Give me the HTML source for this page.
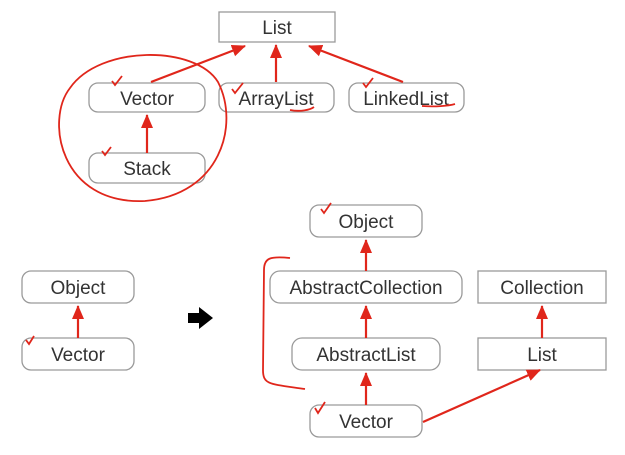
<!DOCTYPE html>
<html><head><style>
body{margin:0;background:#fff;width:625px;height:450px;overflow:hidden}
svg text{font-family:"Liberation Sans",sans-serif;font-size:19px;fill:#333;text-anchor:middle}
</style></head><body>
<svg width="625" height="450" viewBox="0 0 625 450">
<defs><marker id="a" markerWidth="14" markerHeight="14" refX="13" refY="6" orient="auto" markerUnits="userSpaceOnUse" viewBox="0 0 14 12"><path d="M0,0L14,6L0,12Z" fill="#e0261b"/></marker></defs>
<g fill="#fff" stroke="#9a9a9a" stroke-width="1.3">
<rect x="219" y="12" width="116" height="30"/>
<rect x="89" y="83" width="116" height="29" rx="9"/>
<rect x="219" y="83" width="115" height="29" rx="9"/>
<rect x="349" y="83" width="115" height="29" rx="9"/>
<rect x="89" y="153" width="116" height="30" rx="9"/>
<rect x="310" y="205" width="112" height="32" rx="9"/>
<rect x="270" y="271" width="192" height="32" rx="10"/>
<rect x="292" y="338" width="148" height="32" rx="10"/>
<rect x="310" y="405" width="112" height="32" rx="9"/>
<rect x="478" y="271" width="128" height="32"/>
<rect x="478" y="338" width="128" height="32"/>
<rect x="22" y="271" width="112" height="32" rx="9"/>
<rect x="22" y="338" width="112" height="32" rx="9"/>
</g>
<g>
<text x="277" y="34">List</text>
<text x="147" y="105">Vector</text>
<text x="276" y="105">ArrayList</text>
<text x="406" y="105">LinkedList</text>
<text x="147" y="175">Stack</text>
<text x="366" y="228">Object</text>
<text x="366" y="294">AbstractCollection</text>
<text x="366" y="361">AbstractList</text>
<text x="366" y="428">Vector</text>
<text x="542" y="294">Collection</text>
<text x="542" y="361">List</text>
<text x="78" y="294">Object</text>
<text x="78" y="361">Vector</text>
</g>
<g stroke="#e0261b" stroke-width="2.2" fill="none" marker-end="url(#a)">
<line x1="151" y1="82" x2="245" y2="46"/>
<line x1="276" y1="82" x2="276" y2="45"/>
<line x1="403" y1="82" x2="309" y2="46"/>
<line x1="147" y1="153" x2="147" y2="115"/>
<line x1="366" y1="271" x2="366" y2="240"/>
<line x1="366" y1="338" x2="366" y2="306"/>
<line x1="366" y1="405" x2="366" y2="373"/>
<line x1="542" y1="338" x2="542" y2="306"/>
<line x1="78" y1="338" x2="78" y2="306"/>
<line x1="423" y1="422" x2="540" y2="370"/>
</g>
<g stroke="#e0261b" stroke-width="1.8" fill="none">
<path d="M145,201 C60,205 45,120 70,88 C100,45 195,45 218,82 C240,125 220,195 145,201"/>
<path d="M290,258 C270,256 264,258 264,270 L263,370 C263,385 270,384 305,389"/>
<path d="M290,110 C300,112 310,110 314,107"/>
<path d="M422,106 C435,107 448,106 455,104"/>
<path d="M112,81 l3,4 l7,-9 M102,151 l3,4 l6,-8 M232,89 l3,4 l8,-10 M363,83 l3,4 l7,-9 M321,209 l3,4 l7,-10 M26,340 l3,4 l5,-8 M315,408 l3,5 l7,-11"/>
</g>
<path d="M188,313 h11 v-6 l14,11 l-14,11 v-6 h-11z" fill="#000"/>
</svg>
</body></html>
